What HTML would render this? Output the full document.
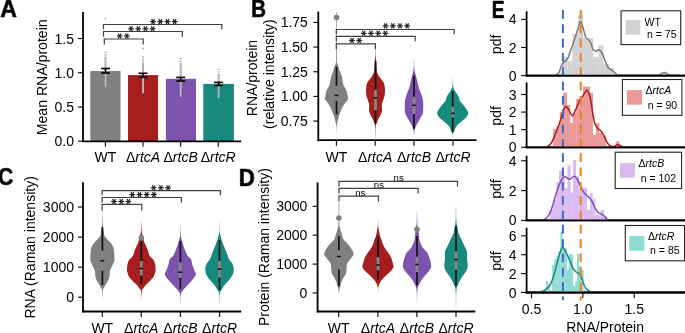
<!DOCTYPE html>
<html><head><meta charset="utf-8"><style>
html,body{margin:0;padding:0;background:#fff;overflow:hidden}
svg{display:block;will-change:transform}
text{font-family:"Liberation Sans",sans-serif;fill:#000}
</style></head><body>
<svg width="685" height="333" viewBox="0 0 685 333">
<rect width="685" height="333" fill="#fff"/>
<text x="0.00" y="0.00" font-size="24" text-anchor="start" font-weight="bold" font-style="normal" stroke="#1a1a1a" stroke-width="0.7" transform="translate(0.3,16.7) scale(0.96,1)">A</text>
<line x1="83.00" y1="12.00" x2="83.00" y2="141.80" stroke="#000" stroke-width="1.8" />
<line x1="78.00" y1="141.20" x2="83.00" y2="141.20" stroke="#000" stroke-width="1.1" />
<text x="74.00" y="146.20" font-size="14" text-anchor="end" font-weight="normal" font-style="normal" >0.0</text>
<line x1="78.00" y1="106.97" x2="83.00" y2="106.97" stroke="#000" stroke-width="1.1" />
<text x="74.00" y="111.97" font-size="14" text-anchor="end" font-weight="normal" font-style="normal" >0.5</text>
<line x1="78.00" y1="72.75" x2="83.00" y2="72.75" stroke="#000" stroke-width="1.1" />
<text x="74.00" y="77.75" font-size="14" text-anchor="end" font-weight="normal" font-style="normal" >1.0</text>
<line x1="78.00" y1="38.52" x2="83.00" y2="38.52" stroke="#000" stroke-width="1.1" />
<text x="74.00" y="43.52" font-size="14" text-anchor="end" font-weight="normal" font-style="normal" >1.5</text>
<rect x="90.30" y="71.00" width="30.20" height="70.30" fill="#808080" />
<rect x="128.00" y="75.10" width="30.00" height="66.20" fill="#a51d1d" />
<rect x="165.90" y="78.80" width="30.10" height="62.50" fill="#7d53ad" />
<rect x="203.30" y="83.90" width="30.60" height="57.40" fill="#17897e" />
<line x1="105.50" y1="51.70" x2="105.50" y2="57.70" stroke="#a8a8a8" stroke-width="2.0" stroke-dasharray="1.2 1.3"/>
<line x1="105.50" y1="57.70" x2="105.50" y2="86.80" stroke="#a6a6a6" stroke-width="2.0" />
<line x1="105.50" y1="57.70" x2="105.50" y2="86.80" stroke="#c8c8c8" stroke-width="0.7" />
<circle cx="105.5" cy="18.7" r="0.9" fill="#a8a8a8"/>
<line x1="143.00" y1="56.50" x2="143.00" y2="62.50" stroke="#a8a8a8" stroke-width="2.0" stroke-dasharray="1.2 1.3"/>
<line x1="143.00" y1="62.50" x2="143.00" y2="93.20" stroke="#a6a6a6" stroke-width="2.0" />
<line x1="143.00" y1="62.50" x2="143.00" y2="93.20" stroke="#c8c8c8" stroke-width="0.7" />
<circle cx="143" cy="48.5" r="0.9" fill="#a8a8a8"/>
<line x1="180.70" y1="58.10" x2="180.70" y2="64.10" stroke="#a8a8a8" stroke-width="2.0" stroke-dasharray="1.2 1.3"/>
<line x1="180.70" y1="64.10" x2="180.70" y2="96.80" stroke="#a6a6a6" stroke-width="2.0" />
<line x1="180.70" y1="64.10" x2="180.70" y2="96.80" stroke="#c8c8c8" stroke-width="0.7" />
<line x1="218.60" y1="68.90" x2="218.60" y2="74.90" stroke="#a8a8a8" stroke-width="2.0" stroke-dasharray="1.2 1.3"/>
<line x1="218.60" y1="74.90" x2="218.60" y2="97.70" stroke="#a6a6a6" stroke-width="2.0" />
<line x1="218.60" y1="74.90" x2="218.60" y2="97.70" stroke="#c8c8c8" stroke-width="0.7" />
<line x1="105.50" y1="68.50" x2="105.50" y2="73.00" stroke="#000" stroke-width="1.6" />
<line x1="101.00" y1="68.50" x2="110.00" y2="68.50" stroke="#000" stroke-width="1.6" />
<line x1="101.00" y1="73.00" x2="110.00" y2="73.00" stroke="#000" stroke-width="1.6" />
<line x1="143.00" y1="73.30" x2="143.00" y2="77.30" stroke="#000" stroke-width="1.6" />
<line x1="138.50" y1="73.30" x2="147.50" y2="73.30" stroke="#000" stroke-width="1.6" />
<line x1="138.50" y1="77.30" x2="147.50" y2="77.30" stroke="#000" stroke-width="1.6" />
<line x1="180.70" y1="77.40" x2="180.70" y2="81.00" stroke="#000" stroke-width="1.6" />
<line x1="176.20" y1="77.40" x2="185.20" y2="77.40" stroke="#000" stroke-width="1.6" />
<line x1="176.20" y1="81.00" x2="185.20" y2="81.00" stroke="#000" stroke-width="1.6" />
<line x1="218.60" y1="82.40" x2="218.60" y2="85.50" stroke="#000" stroke-width="1.6" />
<line x1="214.10" y1="82.40" x2="223.10" y2="82.40" stroke="#000" stroke-width="1.6" />
<line x1="214.10" y1="85.50" x2="223.10" y2="85.50" stroke="#000" stroke-width="1.6" />
<line x1="82.00" y1="141.30" x2="241.20" y2="141.30" stroke="#000" stroke-width="1.8" />
<line x1="105.40" y1="141.30" x2="105.40" y2="146.80" stroke="#000" stroke-width="1.1" />
<text x="105.40" y="162.30" font-size="14" text-anchor="middle" font-weight="normal" font-style="normal" >WT</text>
<line x1="143.00" y1="141.30" x2="143.00" y2="146.80" stroke="#000" stroke-width="1.1" />
<text x="143.00" y="162.30" font-size="14" text-anchor="middle" font-weight="normal" font-style="normal" >Δ<tspan font-style="italic">rtcA</tspan></text>
<line x1="180.60" y1="141.30" x2="180.60" y2="146.80" stroke="#000" stroke-width="1.1" />
<text x="180.60" y="162.30" font-size="14" text-anchor="middle" font-weight="normal" font-style="normal" >Δ<tspan font-style="italic">rtcB</tspan></text>
<line x1="218.20" y1="141.30" x2="218.20" y2="146.80" stroke="#000" stroke-width="1.1" />
<text x="218.20" y="162.30" font-size="14" text-anchor="middle" font-weight="normal" font-style="normal" >Δ<tspan font-style="italic">rtcR</tspan></text>
<text x="0.00" y="0.00" font-size="14.1" text-anchor="middle" font-weight="normal" font-style="normal" transform="translate(47,77.3) rotate(-90)">Mean RNA/protein</text>
<path d="M103.50,29.30 L103.50,24.50 L221.80,24.50 L221.80,29.30" fill="none" stroke="#404040" stroke-width="1.2"/>
<line x1="150.15" y1="21.60" x2="155.95" y2="21.60" stroke="#222" stroke-width="1.2" />
<line x1="151.60" y1="19.09" x2="154.50" y2="24.11" stroke="#222" stroke-width="1.2" />
<line x1="154.50" y1="19.09" x2="151.60" y2="24.11" stroke="#222" stroke-width="1.2" />
<line x1="157.35" y1="21.60" x2="163.15" y2="21.60" stroke="#222" stroke-width="1.2" />
<line x1="158.80" y1="19.09" x2="161.70" y2="24.11" stroke="#222" stroke-width="1.2" />
<line x1="161.70" y1="19.09" x2="158.80" y2="24.11" stroke="#222" stroke-width="1.2" />
<line x1="164.55" y1="21.60" x2="170.35" y2="21.60" stroke="#222" stroke-width="1.2" />
<line x1="166.00" y1="19.09" x2="168.90" y2="24.11" stroke="#222" stroke-width="1.2" />
<line x1="168.90" y1="19.09" x2="166.00" y2="24.11" stroke="#222" stroke-width="1.2" />
<line x1="171.75" y1="21.60" x2="177.55" y2="21.60" stroke="#222" stroke-width="1.2" />
<line x1="173.20" y1="19.09" x2="176.10" y2="24.11" stroke="#222" stroke-width="1.2" />
<line x1="176.10" y1="19.09" x2="173.20" y2="24.11" stroke="#222" stroke-width="1.2" />
<path d="M103.50,36.70 L103.50,31.50 L182.30,31.50 L182.30,36.70" fill="none" stroke="#404040" stroke-width="1.2"/>
<line x1="128.15" y1="28.80" x2="133.95" y2="28.80" stroke="#222" stroke-width="1.2" />
<line x1="129.60" y1="26.29" x2="132.50" y2="31.31" stroke="#222" stroke-width="1.2" />
<line x1="132.50" y1="26.29" x2="129.60" y2="31.31" stroke="#222" stroke-width="1.2" />
<line x1="135.35" y1="28.80" x2="141.15" y2="28.80" stroke="#222" stroke-width="1.2" />
<line x1="136.80" y1="26.29" x2="139.70" y2="31.31" stroke="#222" stroke-width="1.2" />
<line x1="139.70" y1="26.29" x2="136.80" y2="31.31" stroke="#222" stroke-width="1.2" />
<line x1="142.55" y1="28.80" x2="148.35" y2="28.80" stroke="#222" stroke-width="1.2" />
<line x1="144.00" y1="26.29" x2="146.90" y2="31.31" stroke="#222" stroke-width="1.2" />
<line x1="146.90" y1="26.29" x2="144.00" y2="31.31" stroke="#222" stroke-width="1.2" />
<line x1="149.75" y1="28.80" x2="155.55" y2="28.80" stroke="#222" stroke-width="1.2" />
<line x1="151.20" y1="26.29" x2="154.10" y2="31.31" stroke="#222" stroke-width="1.2" />
<line x1="154.10" y1="26.29" x2="151.20" y2="31.31" stroke="#222" stroke-width="1.2" />
<path d="M104.30,44.60 L104.30,39.00 L143.20,39.00 L143.20,44.60" fill="none" stroke="#404040" stroke-width="1.2"/>
<line x1="116.75" y1="36.00" x2="122.55" y2="36.00" stroke="#222" stroke-width="1.2" />
<line x1="118.20" y1="33.49" x2="121.10" y2="38.51" stroke="#222" stroke-width="1.2" />
<line x1="121.10" y1="33.49" x2="118.20" y2="38.51" stroke="#222" stroke-width="1.2" />
<line x1="123.95" y1="36.00" x2="129.75" y2="36.00" stroke="#222" stroke-width="1.2" />
<line x1="125.40" y1="33.49" x2="128.30" y2="38.51" stroke="#222" stroke-width="1.2" />
<line x1="128.30" y1="33.49" x2="125.40" y2="38.51" stroke="#222" stroke-width="1.2" />
<text x="0.00" y="0.00" font-size="24" text-anchor="start" font-weight="bold" font-style="normal" stroke="#1a1a1a" stroke-width="0.7" transform="translate(251.3,16.7) scale(0.85,1)">B</text>
<line x1="318.30" y1="11.50" x2="318.30" y2="141.30" stroke="#000" stroke-width="1.8" />
<line x1="313.30" y1="121.05" x2="318.30" y2="121.05" stroke="#000" stroke-width="1.1" />
<text x="307.90" y="126.05" font-size="14" text-anchor="end" font-weight="normal" font-style="normal" >0.75</text>
<line x1="313.30" y1="96.40" x2="318.30" y2="96.40" stroke="#000" stroke-width="1.1" />
<text x="307.90" y="101.40" font-size="14" text-anchor="end" font-weight="normal" font-style="normal" >1.00</text>
<line x1="313.30" y1="71.75" x2="318.30" y2="71.75" stroke="#000" stroke-width="1.1" />
<text x="307.90" y="76.75" font-size="14" text-anchor="end" font-weight="normal" font-style="normal" >1.25</text>
<line x1="313.30" y1="47.10" x2="318.30" y2="47.10" stroke="#000" stroke-width="1.1" />
<text x="307.90" y="52.10" font-size="14" text-anchor="end" font-weight="normal" font-style="normal" >1.50</text>
<line x1="313.30" y1="22.45" x2="318.30" y2="22.45" stroke="#000" stroke-width="1.1" />
<text x="307.90" y="27.45" font-size="14" text-anchor="end" font-weight="normal" font-style="normal" >1.75</text>
<text x="0.00" y="0.00" font-size="14" text-anchor="middle" font-weight="normal" font-style="normal" transform="translate(257,78) rotate(-90)">RNA/protein</text>
<text x="0.00" y="0.00" font-size="14" text-anchor="middle" font-weight="normal" font-style="normal" transform="translate(273.9,74.1) rotate(-90)">(relative intensity)</text>
<line x1="336.50" y1="50.00" x2="336.50" y2="62.50" stroke="#808080" stroke-width="0.9" opacity="0.2"/>
<line x1="336.50" y1="120.00" x2="336.50" y2="133.00" stroke="#808080" stroke-width="0.9" opacity="0.18"/>
<line x1="336.50" y1="12.00" x2="336.50" y2="60.00" stroke="#808080" stroke-width="1.0" opacity="0.6"/>
<path d="M336.50,50.00 L336.53,50.00 C336.55,51.33 336.57,55.92 336.65,58.00 C336.74,60.08 336.74,61.00 337.04,62.50 C337.35,64.00 338.02,65.50 338.50,67.00 C338.98,68.50 339.37,70.00 339.90,71.50 C340.43,73.00 341.25,74.50 341.70,76.00 C342.15,77.50 342.30,79.00 342.60,80.50 C342.90,82.00 342.93,83.50 343.50,85.00 C344.07,86.50 345.37,88.00 346.00,89.50 C346.63,91.00 346.97,92.50 347.30,94.00 C347.63,95.50 348.00,97.42 348.00,98.50 C348.00,99.58 347.78,99.75 347.30,100.50 C346.82,101.25 345.92,101.83 345.10,103.00 C344.28,104.17 343.17,106.00 342.40,107.50 C341.63,109.00 341.02,110.75 340.50,112.00 C339.98,113.25 339.72,113.67 339.30,115.00 C338.88,116.33 338.41,118.33 338.00,120.00 C337.59,121.67 337.06,123.17 336.81,125.00 C336.57,126.83 336.57,130.00 336.53,131.00 L336.50,131.00 L336.47,131.00 C336.43,130.00 336.43,126.83 336.19,125.00 C335.94,123.17 335.41,121.67 335.00,120.00 C334.59,118.33 334.12,116.33 333.70,115.00 C333.28,113.67 333.02,113.25 332.50,112.00 C331.98,110.75 331.37,109.00 330.60,107.50 C329.83,106.00 328.72,104.17 327.90,103.00 C327.08,101.83 326.18,101.25 325.70,100.50 C325.22,99.75 325.00,99.58 325.00,98.50 C325.00,97.42 325.37,95.50 325.70,94.00 C326.03,92.50 326.37,91.00 327.00,89.50 C327.63,88.00 328.93,86.50 329.50,85.00 C330.07,83.50 330.10,82.00 330.40,80.50 C330.70,79.00 330.85,77.50 331.30,76.00 C331.75,74.50 332.57,73.00 333.10,71.50 C333.63,70.00 334.02,68.50 334.50,67.00 C334.98,65.50 335.65,64.00 335.96,62.50 C336.26,61.00 336.26,60.08 336.35,58.00 C336.43,55.92 336.45,51.33 336.47,50.00 Z" fill="#808080"/>
<line x1="336.50" y1="66.60" x2="336.50" y2="114.70" stroke="#111" stroke-width="1.7" />
<rect x="335.10" y="85.90" width="2.80" height="14.90" fill="#858585" />
<line x1="334.60" y1="95.40" x2="338.40" y2="95.40" stroke="#111" stroke-width="1.5" />
<circle cx="336.50" cy="17.50" r="2.8" fill="#808080"/>
<line x1="375.50" y1="48.70" x2="375.50" y2="60.00" stroke="#a51d1d" stroke-width="0.9" opacity="0.2"/>
<line x1="375.50" y1="125.00" x2="375.50" y2="138.50" stroke="#a51d1d" stroke-width="0.9" opacity="0.18"/>
<path d="M375.50,48.70 L375.53,48.70 C375.55,49.75 375.57,53.12 375.65,55.00 C375.74,56.88 375.89,58.17 376.04,60.00 C376.19,61.83 376.39,64.00 376.55,66.00 C376.71,68.00 376.51,70.17 377.00,72.00 C377.49,73.83 378.38,75.25 379.50,77.00 C380.62,78.75 382.83,80.83 383.70,82.50 C384.57,84.17 384.48,85.75 384.70,87.00 C384.92,88.25 384.97,89.00 385.00,90.00 C385.03,91.00 385.02,91.83 384.90,93.00 C384.78,94.17 384.55,95.92 384.30,97.00 C384.05,98.08 383.70,98.67 383.40,99.50 C383.10,100.33 382.73,101.25 382.50,102.00 C382.27,102.75 382.12,103.33 382.00,104.00 C381.88,104.67 381.80,105.25 381.80,106.00 C381.80,106.75 381.98,107.67 382.00,108.50 C382.02,109.33 382.00,110.25 381.90,111.00 C381.80,111.75 381.65,112.33 381.40,113.00 C381.15,113.67 380.78,114.25 380.40,115.00 C380.02,115.75 379.52,116.67 379.10,117.50 C378.68,118.33 378.23,119.25 377.90,120.00 C377.57,120.75 377.41,121.17 377.10,122.00 C376.79,122.83 376.29,123.83 376.04,125.00 C375.80,126.17 375.74,127.08 375.65,129.00 C375.57,130.92 375.55,135.25 375.53,136.50 L375.50,136.50 L375.47,136.50 C375.45,135.25 375.43,130.92 375.35,129.00 C375.26,127.08 375.20,126.17 374.96,125.00 C374.71,123.83 374.21,122.83 373.90,122.00 C373.59,121.17 373.43,120.75 373.10,120.00 C372.77,119.25 372.32,118.33 371.90,117.50 C371.48,116.67 370.98,115.75 370.60,115.00 C370.22,114.25 369.85,113.67 369.60,113.00 C369.35,112.33 369.20,111.75 369.10,111.00 C369.00,110.25 368.98,109.33 369.00,108.50 C369.02,107.67 369.20,106.75 369.20,106.00 C369.20,105.25 369.12,104.67 369.00,104.00 C368.88,103.33 368.73,102.75 368.50,102.00 C368.27,101.25 367.90,100.33 367.60,99.50 C367.30,98.67 366.95,98.08 366.70,97.00 C366.45,95.92 366.22,94.17 366.10,93.00 C365.98,91.83 365.97,91.00 366.00,90.00 C366.03,89.00 366.08,88.25 366.30,87.00 C366.52,85.75 366.43,84.17 367.30,82.50 C368.17,80.83 370.38,78.75 371.50,77.00 C372.62,75.25 373.51,73.83 374.00,72.00 C374.49,70.17 374.29,68.00 374.45,66.00 C374.61,64.00 374.81,61.83 374.96,60.00 C375.11,58.17 375.26,56.88 375.35,55.00 C375.43,53.12 375.45,49.75 375.47,48.70 Z" fill="#a51d1d"/>
<line x1="375.50" y1="60.70" x2="375.50" y2="123.70" stroke="#111" stroke-width="1.7" />
<rect x="374.10" y="89.70" width="2.80" height="20.60" fill="#858585" />
<line x1="373.60" y1="97.90" x2="377.40" y2="97.90" stroke="#111" stroke-width="1.5" />
<line x1="414.00" y1="58.50" x2="414.00" y2="70.50" stroke="#7d53ad" stroke-width="0.9" opacity="0.2"/>
<line x1="414.00" y1="128.50" x2="414.00" y2="137.00" stroke="#7d53ad" stroke-width="0.9" opacity="0.18"/>
<path d="M414.00,58.50 L414.03,58.50 C414.04,59.58 414.01,63.00 414.10,65.00 C414.18,67.00 414.23,68.72 414.54,70.50 C414.86,72.28 415.59,74.12 416.00,75.70 C416.41,77.28 416.67,78.45 417.00,80.00 C417.33,81.55 417.60,83.42 418.00,85.00 C418.40,86.58 418.87,88.00 419.40,89.50 C419.93,91.00 420.67,92.50 421.20,94.00 C421.73,95.50 422.27,97.00 422.60,98.50 C422.93,100.00 423.10,101.50 423.20,103.00 C423.30,104.50 423.23,105.92 423.20,107.50 C423.17,109.08 423.17,111.25 423.00,112.50 C422.83,113.75 422.53,114.25 422.20,115.00 C421.87,115.75 421.40,116.33 421.00,117.00 C420.60,117.67 420.22,118.25 419.80,119.00 C419.38,119.75 418.97,120.67 418.50,121.50 C418.03,122.33 417.42,123.25 417.00,124.00 C416.58,124.75 416.33,125.25 416.00,126.00 C415.67,126.75 415.31,127.75 415.05,128.50 C414.79,129.25 414.59,129.42 414.42,130.50 C414.25,131.58 414.09,134.25 414.03,135.00 L414.00,135.00 L413.97,135.00 C413.91,134.25 413.75,131.58 413.58,130.50 C413.41,129.42 413.21,129.25 412.95,128.50 C412.69,127.75 412.33,126.75 412.00,126.00 C411.67,125.25 411.42,124.75 411.00,124.00 C410.58,123.25 409.97,122.33 409.50,121.50 C409.03,120.67 408.62,119.75 408.20,119.00 C407.78,118.25 407.40,117.67 407.00,117.00 C406.60,116.33 406.13,115.75 405.80,115.00 C405.47,114.25 405.17,113.75 405.00,112.50 C404.83,111.25 404.83,109.08 404.80,107.50 C404.77,105.92 404.70,104.50 404.80,103.00 C404.90,101.50 405.07,100.00 405.40,98.50 C405.73,97.00 406.27,95.50 406.80,94.00 C407.33,92.50 408.07,91.00 408.60,89.50 C409.13,88.00 409.60,86.58 410.00,85.00 C410.40,83.42 410.67,81.55 411.00,80.00 C411.33,78.45 411.59,77.28 412.00,75.70 C412.41,74.12 413.14,72.28 413.46,70.50 C413.77,68.72 413.82,67.00 413.90,65.00 C413.99,63.00 413.96,59.58 413.97,58.50 Z" fill="#7d53ad"/>
<line x1="414.00" y1="75.70" x2="414.00" y2="128.70" stroke="#111" stroke-width="1.7" />
<rect x="412.60" y="96.70" width="2.80" height="17.20" fill="#858585" />
<line x1="412.10" y1="105.30" x2="415.90" y2="105.30" stroke="#111" stroke-width="1.5" />
<line x1="452.70" y1="78.70" x2="452.70" y2="88.50" stroke="#17897e" stroke-width="0.9" opacity="0.2"/>
<line x1="452.70" y1="131.00" x2="452.70" y2="138.50" stroke="#17897e" stroke-width="0.9" opacity="0.18"/>
<path d="M452.70,78.70 L452.73,78.70 C452.74,79.42 452.75,81.78 452.80,83.00 C452.84,84.22 452.85,85.08 453.01,86.00 C453.17,86.92 453.43,87.67 453.75,88.50 C454.06,89.33 454.47,90.25 454.90,91.00 C455.33,91.75 455.83,92.33 456.30,93.00 C456.77,93.67 457.27,94.28 457.70,95.00 C458.13,95.72 458.63,96.55 458.90,97.30 C459.17,98.05 459.07,98.80 459.30,99.50 C459.53,100.20 459.75,100.75 460.30,101.50 C460.85,102.25 461.65,102.83 462.60,104.00 C463.55,105.17 465.07,107.00 466.00,108.50 C466.93,110.00 468.20,111.50 468.20,113.00 C468.20,114.50 467.23,116.00 466.00,117.50 C464.77,119.00 462.22,120.75 460.80,122.00 C459.38,123.25 458.35,124.08 457.50,125.00 C456.65,125.92 456.25,126.50 455.70,127.50 C455.15,128.50 454.66,129.92 454.20,131.00 C453.74,132.08 453.17,133.08 452.92,134.00 C452.68,134.92 452.76,136.08 452.73,136.50 L452.70,136.50 L452.67,136.50 C452.64,136.08 452.72,134.92 452.48,134.00 C452.23,133.08 451.66,132.08 451.20,131.00 C450.74,129.92 450.25,128.50 449.70,127.50 C449.15,126.50 448.75,125.92 447.90,125.00 C447.05,124.08 446.02,123.25 444.60,122.00 C443.18,120.75 440.63,119.00 439.40,117.50 C438.17,116.00 437.20,114.50 437.20,113.00 C437.20,111.50 438.47,110.00 439.40,108.50 C440.33,107.00 441.85,105.17 442.80,104.00 C443.75,102.83 444.55,102.25 445.10,101.50 C445.65,100.75 445.87,100.20 446.10,99.50 C446.33,98.80 446.23,98.05 446.50,97.30 C446.77,96.55 447.27,95.72 447.70,95.00 C448.13,94.28 448.63,93.67 449.10,93.00 C449.57,92.33 450.07,91.75 450.50,91.00 C450.93,90.25 451.34,89.33 451.65,88.50 C451.97,87.67 452.23,86.92 452.39,86.00 C452.55,85.08 452.56,84.22 452.60,83.00 C452.65,81.78 452.66,79.42 452.67,78.70 Z" fill="#17897e"/>
<line x1="452.70" y1="91.00" x2="452.70" y2="132.00" stroke="#111" stroke-width="1.7" />
<rect x="451.30" y="106.70" width="2.80" height="10.80" fill="#858585" />
<line x1="450.80" y1="113.40" x2="454.60" y2="113.40" stroke="#111" stroke-width="1.5" />
<line x1="317.50" y1="140.20" x2="476.50" y2="140.20" stroke="#000" stroke-width="1.8" />
<line x1="336.40" y1="140.20" x2="336.40" y2="145.70" stroke="#000" stroke-width="1.1" />
<text x="336.40" y="161.80" font-size="14" text-anchor="middle" font-weight="normal" font-style="normal" >WT</text>
<line x1="375.20" y1="140.20" x2="375.20" y2="145.70" stroke="#000" stroke-width="1.1" />
<text x="375.20" y="161.80" font-size="14" text-anchor="middle" font-weight="normal" font-style="normal" >Δ<tspan font-style="italic">rtcA</tspan></text>
<line x1="414.00" y1="140.20" x2="414.00" y2="145.70" stroke="#000" stroke-width="1.1" />
<text x="414.00" y="161.80" font-size="14" text-anchor="middle" font-weight="normal" font-style="normal" >Δ<tspan font-style="italic">rtcB</tspan></text>
<line x1="453.00" y1="140.20" x2="453.00" y2="145.70" stroke="#000" stroke-width="1.1" />
<text x="453.00" y="161.80" font-size="14" text-anchor="middle" font-weight="normal" font-style="normal" >Δ<tspan font-style="italic">rtcR</tspan></text>
<path d="M336.30,34.20 L336.30,29.50 L454.20,29.50 L454.20,34.20" fill="none" stroke="#404040" stroke-width="1.2"/>
<line x1="382.70" y1="25.90" x2="388.50" y2="25.90" stroke="#222" stroke-width="1.2" />
<line x1="384.15" y1="23.39" x2="387.05" y2="28.41" stroke="#222" stroke-width="1.2" />
<line x1="387.05" y1="23.39" x2="384.15" y2="28.41" stroke="#222" stroke-width="1.2" />
<line x1="389.90" y1="25.90" x2="395.70" y2="25.90" stroke="#222" stroke-width="1.2" />
<line x1="391.35" y1="23.39" x2="394.25" y2="28.41" stroke="#222" stroke-width="1.2" />
<line x1="394.25" y1="23.39" x2="391.35" y2="28.41" stroke="#222" stroke-width="1.2" />
<line x1="397.10" y1="25.90" x2="402.90" y2="25.90" stroke="#222" stroke-width="1.2" />
<line x1="398.55" y1="23.39" x2="401.45" y2="28.41" stroke="#222" stroke-width="1.2" />
<line x1="401.45" y1="23.39" x2="398.55" y2="28.41" stroke="#222" stroke-width="1.2" />
<line x1="404.30" y1="25.90" x2="410.10" y2="25.90" stroke="#222" stroke-width="1.2" />
<line x1="405.75" y1="23.39" x2="408.65" y2="28.41" stroke="#222" stroke-width="1.2" />
<line x1="408.65" y1="23.39" x2="405.75" y2="28.41" stroke="#222" stroke-width="1.2" />
<path d="M336.30,41.20 L336.30,36.30 L415.20,36.30 L415.20,41.20" fill="none" stroke="#404040" stroke-width="1.2"/>
<line x1="360.85" y1="33.30" x2="366.65" y2="33.30" stroke="#222" stroke-width="1.2" />
<line x1="362.30" y1="30.79" x2="365.20" y2="35.81" stroke="#222" stroke-width="1.2" />
<line x1="365.20" y1="30.79" x2="362.30" y2="35.81" stroke="#222" stroke-width="1.2" />
<line x1="368.05" y1="33.30" x2="373.85" y2="33.30" stroke="#222" stroke-width="1.2" />
<line x1="369.50" y1="30.79" x2="372.40" y2="35.81" stroke="#222" stroke-width="1.2" />
<line x1="372.40" y1="30.79" x2="369.50" y2="35.81" stroke="#222" stroke-width="1.2" />
<line x1="375.25" y1="33.30" x2="381.05" y2="33.30" stroke="#222" stroke-width="1.2" />
<line x1="376.70" y1="30.79" x2="379.60" y2="35.81" stroke="#222" stroke-width="1.2" />
<line x1="379.60" y1="30.79" x2="376.70" y2="35.81" stroke="#222" stroke-width="1.2" />
<line x1="382.45" y1="33.30" x2="388.25" y2="33.30" stroke="#222" stroke-width="1.2" />
<line x1="383.90" y1="30.79" x2="386.80" y2="35.81" stroke="#222" stroke-width="1.2" />
<line x1="386.80" y1="30.79" x2="383.90" y2="35.81" stroke="#222" stroke-width="1.2" />
<path d="M336.30,49.30 L336.30,43.80 L375.40,43.80 L375.40,49.30" fill="none" stroke="#404040" stroke-width="1.2"/>
<line x1="349.10" y1="40.50" x2="354.90" y2="40.50" stroke="#222" stroke-width="1.2" />
<line x1="350.55" y1="37.99" x2="353.45" y2="43.01" stroke="#222" stroke-width="1.2" />
<line x1="353.45" y1="37.99" x2="350.55" y2="43.01" stroke="#222" stroke-width="1.2" />
<line x1="356.30" y1="40.50" x2="362.10" y2="40.50" stroke="#222" stroke-width="1.2" />
<line x1="357.75" y1="37.99" x2="360.65" y2="43.01" stroke="#222" stroke-width="1.2" />
<line x1="360.65" y1="37.99" x2="357.75" y2="43.01" stroke="#222" stroke-width="1.2" />
<text x="0.00" y="0.00" font-size="24" text-anchor="start" font-weight="bold" font-style="normal" stroke="#1a1a1a" stroke-width="0.7" transform="translate(-2,184.5) scale(0.88,1)">C</text>
<line x1="83.00" y1="182.30" x2="83.00" y2="312.30" stroke="#000" stroke-width="1.8" />
<line x1="78.00" y1="297.20" x2="83.00" y2="297.20" stroke="#000" stroke-width="1.1" />
<text x="74.00" y="302.20" font-size="14" text-anchor="end" font-weight="normal" font-style="normal" >0</text>
<line x1="78.00" y1="267.15" x2="83.00" y2="267.15" stroke="#000" stroke-width="1.1" />
<text x="74.00" y="272.15" font-size="14" text-anchor="end" font-weight="normal" font-style="normal" >1000</text>
<line x1="78.00" y1="237.10" x2="83.00" y2="237.10" stroke="#000" stroke-width="1.1" />
<text x="74.00" y="242.10" font-size="14" text-anchor="end" font-weight="normal" font-style="normal" >2000</text>
<line x1="78.00" y1="207.05" x2="83.00" y2="207.05" stroke="#000" stroke-width="1.1" />
<text x="74.00" y="212.05" font-size="14" text-anchor="end" font-weight="normal" font-style="normal" >3000</text>
<text x="0.00" y="0.00" font-size="14" text-anchor="middle" font-weight="normal" font-style="normal" transform="translate(34.9,247.4) rotate(-90)">RNA (Raman intensity)</text>
<line x1="102.40" y1="210.60" x2="102.40" y2="227.00" stroke="#808080" stroke-width="0.9" opacity="0.2"/>
<line x1="102.40" y1="289.00" x2="102.40" y2="300.00" stroke="#808080" stroke-width="0.9" opacity="0.18"/>
<path d="M102.40,210.60 L102.43,210.60 C102.45,212.17 102.47,217.27 102.55,220.00 C102.64,222.73 102.72,225.00 102.94,227.00 C103.17,229.00 103.66,230.53 103.90,232.00 C104.14,233.47 103.90,234.63 104.40,235.80 C104.90,236.97 105.83,237.80 106.90,239.00 C107.97,240.20 109.83,241.83 110.80,243.00 C111.77,244.17 112.20,245.00 112.70,246.00 C113.20,247.00 113.52,247.50 113.80,249.00 C114.08,250.50 114.32,253.00 114.40,255.00 C114.48,257.00 114.53,259.50 114.30,261.00 C114.07,262.50 113.45,263.00 113.00,264.00 C112.55,265.00 112.13,265.80 111.60,267.00 C111.07,268.20 110.12,269.90 109.80,271.20 C109.48,272.50 109.83,273.67 109.70,274.80 C109.57,275.93 109.23,277.13 109.00,278.00 C108.77,278.87 108.63,279.25 108.30,280.00 C107.97,280.75 107.45,281.75 107.00,282.50 C106.55,283.25 106.03,283.75 105.60,284.50 C105.17,285.25 104.82,286.25 104.40,287.00 C103.98,287.75 103.39,288.17 103.09,289.00 C102.79,289.83 102.73,290.50 102.62,292.00 C102.51,293.50 102.46,297.00 102.43,298.00 L102.40,298.00 L102.37,298.00 C102.34,297.00 102.29,293.50 102.18,292.00 C102.07,290.50 102.01,289.83 101.71,289.00 C101.41,288.17 100.82,287.75 100.40,287.00 C99.98,286.25 99.63,285.25 99.20,284.50 C98.77,283.75 98.25,283.25 97.80,282.50 C97.35,281.75 96.83,280.75 96.50,280.00 C96.17,279.25 96.03,278.87 95.80,278.00 C95.57,277.13 95.23,275.93 95.10,274.80 C94.97,273.67 95.32,272.50 95.00,271.20 C94.68,269.90 93.73,268.20 93.20,267.00 C92.67,265.80 92.25,265.00 91.80,264.00 C91.35,263.00 90.73,262.50 90.50,261.00 C90.27,259.50 90.32,257.00 90.40,255.00 C90.48,253.00 90.72,250.50 91.00,249.00 C91.28,247.50 91.60,247.00 92.10,246.00 C92.60,245.00 93.03,244.17 94.00,243.00 C94.97,241.83 96.83,240.20 97.90,239.00 C98.97,237.80 99.90,236.97 100.40,235.80 C100.90,234.63 100.66,233.47 100.90,232.00 C101.14,230.53 101.63,229.00 101.86,227.00 C102.08,225.00 102.16,222.73 102.25,220.00 C102.33,217.27 102.35,212.17 102.37,210.60 Z" fill="#808080"/>
<line x1="102.40" y1="227.00" x2="102.40" y2="285.00" stroke="#111" stroke-width="1.7" />
<rect x="101.00" y="250.80" width="2.80" height="20.00" fill="#858585" />
<line x1="100.50" y1="260.70" x2="104.30" y2="260.70" stroke="#111" stroke-width="1.5" />
<line x1="141.30" y1="221.50" x2="141.30" y2="233.00" stroke="#a51d1d" stroke-width="0.9" opacity="0.2"/>
<line x1="141.30" y1="290.00" x2="141.30" y2="300.00" stroke="#a51d1d" stroke-width="0.9" opacity="0.18"/>
<path d="M141.30,221.50 L141.33,221.50 C141.35,222.58 141.37,226.08 141.45,228.00 C141.54,229.92 141.60,231.67 141.84,233.00 C142.09,234.33 142.66,235.17 142.90,236.00 C143.14,236.83 143.12,237.08 143.30,238.00 C143.48,238.92 143.55,240.17 144.00,241.50 C144.45,242.83 145.35,244.50 146.00,246.00 C146.65,247.50 147.42,249.17 147.90,250.50 C148.38,251.83 148.53,253.00 148.90,254.00 C149.27,255.00 149.57,255.75 150.10,256.50 C150.63,257.25 151.43,257.75 152.10,258.50 C152.77,259.25 153.57,259.83 154.10,261.00 C154.63,262.17 155.05,264.00 155.30,265.50 C155.55,267.00 155.60,268.92 155.60,270.00 C155.60,271.08 155.62,270.92 155.30,272.00 C154.98,273.08 154.60,275.00 153.70,276.50 C152.80,278.00 150.97,279.83 149.90,281.00 C148.83,282.17 148.07,282.75 147.30,283.50 C146.53,284.25 145.93,284.75 145.30,285.50 C144.67,286.25 144.05,287.25 143.50,288.00 C142.95,288.75 142.33,289.00 141.99,290.00 C141.65,291.00 141.56,292.67 141.45,294.00 C141.34,295.33 141.35,297.33 141.33,298.00 L141.30,298.00 L141.27,298.00 C141.25,297.33 141.26,295.33 141.15,294.00 C141.04,292.67 140.95,291.00 140.61,290.00 C140.27,289.00 139.65,288.75 139.10,288.00 C138.55,287.25 137.93,286.25 137.30,285.50 C136.67,284.75 136.07,284.25 135.30,283.50 C134.53,282.75 133.77,282.17 132.70,281.00 C131.63,279.83 129.80,278.00 128.90,276.50 C128.00,275.00 127.62,273.08 127.30,272.00 C126.98,270.92 127.00,271.08 127.00,270.00 C127.00,268.92 127.05,267.00 127.30,265.50 C127.55,264.00 127.97,262.17 128.50,261.00 C129.03,259.83 129.83,259.25 130.50,258.50 C131.17,257.75 131.97,257.25 132.50,256.50 C133.03,255.75 133.33,255.00 133.70,254.00 C134.07,253.00 134.22,251.83 134.70,250.50 C135.18,249.17 135.95,247.50 136.60,246.00 C137.25,244.50 138.15,242.83 138.60,241.50 C139.05,240.17 139.12,238.92 139.30,238.00 C139.48,237.08 139.46,236.83 139.70,236.00 C139.94,235.17 140.51,234.33 140.76,233.00 C141.00,231.67 141.06,229.92 141.15,228.00 C141.23,226.08 141.25,222.58 141.27,221.50 Z" fill="#a51d1d"/>
<line x1="141.30" y1="237.90" x2="141.30" y2="283.70" stroke="#111" stroke-width="1.7" />
<rect x="139.90" y="261.00" width="2.80" height="14.50" fill="#858585" />
<line x1="139.40" y1="268.50" x2="143.20" y2="268.50" stroke="#111" stroke-width="1.5" />
<circle cx="141.30" cy="237.90" r="2.8" fill="#808080"/>
<line x1="180.40" y1="225.00" x2="180.40" y2="237.00" stroke="#7d53ad" stroke-width="0.9" opacity="0.2"/>
<line x1="180.40" y1="293.00" x2="180.40" y2="304.00" stroke="#7d53ad" stroke-width="0.9" opacity="0.18"/>
<path d="M180.40,225.00 L180.43,225.00 C180.45,226.17 180.47,230.00 180.55,232.00 C180.64,234.00 180.72,235.57 180.94,237.00 C181.17,238.43 181.52,239.27 181.90,240.60 C182.28,241.93 182.75,243.60 183.20,245.00 C183.65,246.40 183.93,247.33 184.60,249.00 C185.27,250.67 186.40,253.58 187.20,255.00 C188.00,256.42 188.72,256.70 189.40,257.50 C190.08,258.30 190.85,258.72 191.30,259.80 C191.75,260.88 191.70,262.55 192.10,264.00 C192.50,265.45 193.27,267.33 193.70,268.50 C194.13,269.67 194.37,270.25 194.70,271.00 C195.03,271.75 195.53,272.33 195.70,273.00 C195.87,273.67 195.92,274.25 195.70,275.00 C195.48,275.75 194.92,276.75 194.40,277.50 C193.88,278.25 193.23,278.75 192.60,279.50 C191.97,280.25 191.25,281.25 190.60,282.00 C189.95,282.75 189.40,283.25 188.70,284.00 C188.00,284.75 187.12,285.75 186.40,286.50 C185.68,287.25 185.03,287.75 184.40,288.50 C183.77,289.25 183.15,290.25 182.60,291.00 C182.05,291.75 181.43,292.00 181.09,293.00 C180.75,294.00 180.66,295.50 180.55,297.00 C180.44,298.50 180.45,301.17 180.43,302.00 L180.40,302.00 L180.37,302.00 C180.35,301.17 180.36,298.50 180.25,297.00 C180.14,295.50 180.05,294.00 179.71,293.00 C179.37,292.00 178.75,291.75 178.20,291.00 C177.65,290.25 177.03,289.25 176.40,288.50 C175.77,287.75 175.12,287.25 174.40,286.50 C173.68,285.75 172.80,284.75 172.10,284.00 C171.40,283.25 170.85,282.75 170.20,282.00 C169.55,281.25 168.83,280.25 168.20,279.50 C167.57,278.75 166.92,278.25 166.40,277.50 C165.88,276.75 165.32,275.75 165.10,275.00 C164.88,274.25 164.93,273.67 165.10,273.00 C165.27,272.33 165.77,271.75 166.10,271.00 C166.43,270.25 166.67,269.67 167.10,268.50 C167.53,267.33 168.30,265.45 168.70,264.00 C169.10,262.55 169.05,260.88 169.50,259.80 C169.95,258.72 170.72,258.30 171.40,257.50 C172.08,256.70 172.80,256.42 173.60,255.00 C174.40,253.58 175.53,250.67 176.20,249.00 C176.87,247.33 177.15,246.40 177.60,245.00 C178.05,243.60 178.52,241.93 178.90,240.60 C179.28,239.27 179.63,238.43 179.86,237.00 C180.08,235.57 180.16,234.00 180.25,232.00 C180.33,230.00 180.35,226.17 180.37,225.00 Z" fill="#7d53ad"/>
<line x1="180.40" y1="241.20" x2="180.40" y2="289.00" stroke="#111" stroke-width="1.7" />
<rect x="179.00" y="262.20" width="2.80" height="15.50" fill="#858585" />
<line x1="178.50" y1="272.20" x2="182.30" y2="272.20" stroke="#111" stroke-width="1.5" />
<line x1="219.50" y1="222.70" x2="219.50" y2="235.00" stroke="#17897e" stroke-width="0.9" opacity="0.2"/>
<line x1="219.50" y1="292.00" x2="219.50" y2="304.00" stroke="#17897e" stroke-width="0.9" opacity="0.18"/>
<path d="M219.50,222.70 L219.53,222.70 C219.54,223.92 219.55,228.28 219.60,230.00 C219.64,231.72 219.68,232.17 219.81,233.00 C219.94,233.83 220.08,233.92 220.36,235.00 C220.64,236.08 221.04,238.00 221.50,239.50 C221.96,241.00 222.53,242.50 223.10,244.00 C223.67,245.50 224.30,247.00 224.90,248.50 C225.50,250.00 226.23,251.75 226.70,253.00 C227.17,254.25 227.32,255.00 227.70,256.00 C228.08,257.00 228.53,258.12 229.00,259.00 C229.47,259.88 229.95,260.55 230.50,261.30 C231.05,262.05 231.77,262.38 232.30,263.50 C232.83,264.62 233.52,266.50 233.70,268.00 C233.88,269.50 233.52,271.50 233.40,272.50 C233.28,273.50 233.52,273.00 233.00,274.00 C232.48,275.00 231.42,277.00 230.30,278.50 C229.18,280.00 227.27,281.87 226.30,283.00 C225.33,284.13 225.07,284.55 224.50,285.30 C223.93,286.05 223.40,286.72 222.90,287.50 C222.40,288.28 221.95,289.25 221.50,290.00 C221.05,290.75 220.50,291.00 220.19,292.00 C219.88,293.00 219.76,294.33 219.65,296.00 C219.54,297.67 219.55,301.00 219.53,302.00 L219.50,302.00 L219.47,302.00 C219.45,301.00 219.46,297.67 219.35,296.00 C219.24,294.33 219.12,293.00 218.81,292.00 C218.50,291.00 217.95,290.75 217.50,290.00 C217.05,289.25 216.60,288.28 216.10,287.50 C215.60,286.72 215.07,286.05 214.50,285.30 C213.93,284.55 213.67,284.13 212.70,283.00 C211.73,281.87 209.82,280.00 208.70,278.50 C207.58,277.00 206.52,275.00 206.00,274.00 C205.48,273.00 205.72,273.50 205.60,272.50 C205.48,271.50 205.12,269.50 205.30,268.00 C205.48,266.50 206.17,264.62 206.70,263.50 C207.23,262.38 207.95,262.05 208.50,261.30 C209.05,260.55 209.53,259.88 210.00,259.00 C210.47,258.12 210.92,257.00 211.30,256.00 C211.68,255.00 211.83,254.25 212.30,253.00 C212.77,251.75 213.50,250.00 214.10,248.50 C214.70,247.00 215.33,245.50 215.90,244.00 C216.47,242.50 217.04,241.00 217.50,239.50 C217.96,238.00 218.36,236.08 218.64,235.00 C218.92,233.92 219.06,233.83 219.19,233.00 C219.32,232.17 219.36,231.72 219.40,230.00 C219.45,228.28 219.46,223.92 219.47,222.70 Z" fill="#17897e"/>
<line x1="219.50" y1="240.00" x2="219.50" y2="289.80" stroke="#111" stroke-width="1.7" />
<rect x="218.10" y="261.00" width="2.80" height="16.60" fill="#858585" />
<line x1="217.60" y1="269.20" x2="221.40" y2="269.20" stroke="#111" stroke-width="1.5" />
<line x1="82.00" y1="311.50" x2="241.20" y2="311.50" stroke="#000" stroke-width="1.8" />
<line x1="102.30" y1="311.50" x2="102.30" y2="317.00" stroke="#000" stroke-width="1.1" />
<text x="102.30" y="332.70" font-size="14" text-anchor="middle" font-weight="normal" font-style="normal" >WT</text>
<line x1="141.20" y1="311.50" x2="141.20" y2="317.00" stroke="#000" stroke-width="1.1" />
<text x="141.20" y="332.70" font-size="14" text-anchor="middle" font-weight="normal" font-style="normal" >Δ<tspan font-style="italic">rtcA</tspan></text>
<line x1="180.40" y1="311.50" x2="180.40" y2="317.00" stroke="#000" stroke-width="1.1" />
<text x="180.40" y="332.70" font-size="14" text-anchor="middle" font-weight="normal" font-style="normal" >Δ<tspan font-style="italic">rtcB</tspan></text>
<line x1="219.60" y1="311.50" x2="219.60" y2="317.00" stroke="#000" stroke-width="1.1" />
<text x="219.60" y="332.70" font-size="14" text-anchor="middle" font-weight="normal" font-style="normal" >Δ<tspan font-style="italic">rtcR</tspan></text>
<path d="M102.10,195.20 L102.10,190.60 L220.50,190.60 L220.50,195.20" fill="none" stroke="#404040" stroke-width="1.2"/>
<line x1="150.75" y1="187.80" x2="156.55" y2="187.80" stroke="#222" stroke-width="1.2" />
<line x1="152.20" y1="185.29" x2="155.10" y2="190.31" stroke="#222" stroke-width="1.2" />
<line x1="155.10" y1="185.29" x2="152.20" y2="190.31" stroke="#222" stroke-width="1.2" />
<line x1="157.95" y1="187.80" x2="163.75" y2="187.80" stroke="#222" stroke-width="1.2" />
<line x1="159.40" y1="185.29" x2="162.30" y2="190.31" stroke="#222" stroke-width="1.2" />
<line x1="162.30" y1="185.29" x2="159.40" y2="190.31" stroke="#222" stroke-width="1.2" />
<line x1="165.15" y1="187.80" x2="170.95" y2="187.80" stroke="#222" stroke-width="1.2" />
<line x1="166.60" y1="185.29" x2="169.50" y2="190.31" stroke="#222" stroke-width="1.2" />
<line x1="169.50" y1="185.29" x2="166.60" y2="190.31" stroke="#222" stroke-width="1.2" />
<path d="M102.10,202.40 L102.10,197.50 L181.40,197.50 L181.40,202.40" fill="none" stroke="#404040" stroke-width="1.2"/>
<line x1="129.40" y1="194.60" x2="135.20" y2="194.60" stroke="#222" stroke-width="1.2" />
<line x1="130.85" y1="192.09" x2="133.75" y2="197.11" stroke="#222" stroke-width="1.2" />
<line x1="133.75" y1="192.09" x2="130.85" y2="197.11" stroke="#222" stroke-width="1.2" />
<line x1="136.60" y1="194.60" x2="142.40" y2="194.60" stroke="#222" stroke-width="1.2" />
<line x1="138.05" y1="192.09" x2="140.95" y2="197.11" stroke="#222" stroke-width="1.2" />
<line x1="140.95" y1="192.09" x2="138.05" y2="197.11" stroke="#222" stroke-width="1.2" />
<line x1="143.80" y1="194.60" x2="149.60" y2="194.60" stroke="#222" stroke-width="1.2" />
<line x1="145.25" y1="192.09" x2="148.15" y2="197.11" stroke="#222" stroke-width="1.2" />
<line x1="148.15" y1="192.09" x2="145.25" y2="197.11" stroke="#222" stroke-width="1.2" />
<line x1="151.00" y1="194.60" x2="156.80" y2="194.60" stroke="#222" stroke-width="1.2" />
<line x1="152.45" y1="192.09" x2="155.35" y2="197.11" stroke="#222" stroke-width="1.2" />
<line x1="155.35" y1="192.09" x2="152.45" y2="197.11" stroke="#222" stroke-width="1.2" />
<path d="M102.10,210.40 L102.10,204.40 L141.80,204.40 L141.80,210.40" fill="none" stroke="#404040" stroke-width="1.2"/>
<line x1="111.10" y1="201.50" x2="116.90" y2="201.50" stroke="#222" stroke-width="1.2" />
<line x1="112.55" y1="198.99" x2="115.45" y2="204.01" stroke="#222" stroke-width="1.2" />
<line x1="115.45" y1="198.99" x2="112.55" y2="204.01" stroke="#222" stroke-width="1.2" />
<line x1="118.30" y1="201.50" x2="124.10" y2="201.50" stroke="#222" stroke-width="1.2" />
<line x1="119.75" y1="198.99" x2="122.65" y2="204.01" stroke="#222" stroke-width="1.2" />
<line x1="122.65" y1="198.99" x2="119.75" y2="204.01" stroke="#222" stroke-width="1.2" />
<line x1="125.50" y1="201.50" x2="131.30" y2="201.50" stroke="#222" stroke-width="1.2" />
<line x1="126.95" y1="198.99" x2="129.85" y2="204.01" stroke="#222" stroke-width="1.2" />
<line x1="129.85" y1="198.99" x2="126.95" y2="204.01" stroke="#222" stroke-width="1.2" />
<text x="0.00" y="0.00" font-size="24" text-anchor="start" font-weight="bold" font-style="normal" stroke="#1a1a1a" stroke-width="0.7" transform="translate(238.7,185.6) scale(0.93,1)">D</text>
<line x1="317.60" y1="182.40" x2="317.60" y2="312.30" stroke="#000" stroke-width="1.8" />
<line x1="312.60" y1="293.00" x2="317.60" y2="293.00" stroke="#000" stroke-width="1.1" />
<text x="307.30" y="298.00" font-size="14" text-anchor="end" font-weight="normal" font-style="normal" >0</text>
<line x1="312.60" y1="264.10" x2="317.60" y2="264.10" stroke="#000" stroke-width="1.1" />
<text x="307.30" y="269.10" font-size="14" text-anchor="end" font-weight="normal" font-style="normal" >1000</text>
<line x1="312.60" y1="235.20" x2="317.60" y2="235.20" stroke="#000" stroke-width="1.1" />
<text x="307.30" y="240.20" font-size="14" text-anchor="end" font-weight="normal" font-style="normal" >2000</text>
<line x1="312.60" y1="206.30" x2="317.60" y2="206.30" stroke="#000" stroke-width="1.1" />
<text x="307.30" y="211.30" font-size="14" text-anchor="end" font-weight="normal" font-style="normal" >3000</text>
<text x="0.00" y="0.00" font-size="14" text-anchor="middle" font-weight="normal" font-style="normal" transform="translate(269.4,247.1) rotate(-90)">Protein (Raman intensity)</text>
<line x1="338.90" y1="220.00" x2="338.90" y2="229.40" stroke="#808080" stroke-width="0.9" opacity="0.2"/>
<line x1="338.90" y1="289.00" x2="338.90" y2="295.00" stroke="#808080" stroke-width="0.9" opacity="0.18"/>
<line x1="338.90" y1="202.00" x2="338.90" y2="229.00" stroke="#808080" stroke-width="1.0" opacity="0.6"/>
<path d="M338.90,220.00 L339.00,220.00 C339.03,220.83 338.98,223.43 339.21,225.00 C339.45,226.57 339.99,227.90 340.40,229.40 C340.81,230.90 341.20,232.40 341.70,234.00 C342.20,235.60 342.70,237.67 343.40,239.00 C344.10,240.33 345.00,241.00 345.90,242.00 C346.80,243.00 347.97,244.00 348.80,245.00 C349.63,246.00 350.25,247.00 350.90,248.00 C351.55,249.00 352.25,250.07 352.70,251.00 C353.15,251.93 353.47,252.93 353.60,253.60 C353.73,254.27 353.78,254.43 353.50,255.00 C353.22,255.57 352.45,256.25 351.90,257.00 C351.35,257.75 350.82,258.67 350.20,259.50 C349.58,260.33 348.73,261.25 348.20,262.00 C347.67,262.75 347.27,262.92 347.00,264.00 C346.73,265.08 346.75,267.00 346.60,268.50 C346.45,270.00 346.38,271.83 346.10,273.00 C345.82,274.17 345.32,274.75 344.90,275.50 C344.48,276.25 344.02,276.75 343.60,277.50 C343.18,278.25 342.77,279.25 342.40,280.00 C342.03,280.75 341.73,281.00 341.40,282.00 C341.07,283.00 340.73,284.83 340.40,286.00 C340.07,287.17 339.69,287.83 339.44,289.00 C339.20,290.17 339.01,292.33 338.93,293.00 L338.90,293.00 L338.87,293.00 C338.79,292.33 338.60,290.17 338.36,289.00 C338.11,287.83 337.73,287.17 337.40,286.00 C337.07,284.83 336.73,283.00 336.40,282.00 C336.07,281.00 335.77,280.75 335.40,280.00 C335.03,279.25 334.62,278.25 334.20,277.50 C333.78,276.75 333.32,276.25 332.90,275.50 C332.48,274.75 331.98,274.17 331.70,273.00 C331.42,271.83 331.35,270.00 331.20,268.50 C331.05,267.00 331.07,265.08 330.80,264.00 C330.53,262.92 330.13,262.75 329.60,262.00 C329.07,261.25 328.22,260.33 327.60,259.50 C326.98,258.67 326.45,257.75 325.90,257.00 C325.35,256.25 324.58,255.57 324.30,255.00 C324.02,254.43 324.07,254.27 324.20,253.60 C324.33,252.93 324.65,251.93 325.10,251.00 C325.55,250.07 326.25,249.00 326.90,248.00 C327.55,247.00 328.17,246.00 329.00,245.00 C329.83,244.00 331.00,243.00 331.90,242.00 C332.80,241.00 333.70,240.33 334.40,239.00 C335.10,237.67 335.60,235.60 336.10,234.00 C336.60,232.40 336.99,230.90 337.40,229.40 C337.81,227.90 338.35,226.57 338.59,225.00 C338.82,223.43 338.77,220.83 338.80,220.00 Z" fill="#808080"/>
<line x1="338.90" y1="236.00" x2="338.90" y2="286.00" stroke="#111" stroke-width="1.7" />
<rect x="337.50" y="250.40" width="2.80" height="18.80" fill="#858585" />
<line x1="337.00" y1="256.50" x2="340.80" y2="256.50" stroke="#111" stroke-width="1.5" />
<circle cx="338.90" cy="218.00" r="2.8" fill="#808080"/>
<line x1="378.00" y1="221.00" x2="378.00" y2="230.30" stroke="#a51d1d" stroke-width="0.9" opacity="0.2"/>
<line x1="378.00" y1="283.60" x2="378.00" y2="292.00" stroke="#a51d1d" stroke-width="0.9" opacity="0.18"/>
<path d="M378.00,221.00 L378.03,221.00 C378.05,221.83 378.01,224.45 378.15,226.00 C378.29,227.55 378.62,228.97 378.86,230.30 C379.10,231.63 379.39,232.95 379.60,234.00 C379.81,235.05 379.77,235.60 380.10,236.60 C380.43,237.60 381.12,238.68 381.60,240.00 C382.08,241.32 382.37,243.00 383.00,244.50 C383.63,246.00 384.43,247.50 385.40,249.00 C386.37,250.50 387.82,252.00 388.80,253.50 C389.78,255.00 390.67,256.50 391.30,258.00 C391.93,259.50 392.23,261.00 392.60,262.50 C392.97,264.00 393.77,265.58 393.50,267.00 C393.23,268.42 391.98,269.83 391.00,271.00 C390.02,272.17 388.60,273.08 387.60,274.00 C386.60,274.92 385.80,275.70 385.00,276.50 C384.20,277.30 383.47,278.05 382.80,278.80 C382.13,279.55 381.55,280.20 381.00,281.00 C380.45,281.80 379.96,282.60 379.50,283.60 C379.04,284.60 378.47,285.93 378.22,287.00 C377.98,288.07 378.06,289.50 378.03,290.00 L378.00,290.00 L377.97,290.00 C377.94,289.50 378.02,288.07 377.78,287.00 C377.53,285.93 376.96,284.60 376.50,283.60 C376.04,282.60 375.55,281.80 375.00,281.00 C374.45,280.20 373.87,279.55 373.20,278.80 C372.53,278.05 371.80,277.30 371.00,276.50 C370.20,275.70 369.40,274.92 368.40,274.00 C367.40,273.08 365.98,272.17 365.00,271.00 C364.02,269.83 362.77,268.42 362.50,267.00 C362.23,265.58 363.03,264.00 363.40,262.50 C363.77,261.00 364.07,259.50 364.70,258.00 C365.33,256.50 366.22,255.00 367.20,253.50 C368.18,252.00 369.63,250.50 370.60,249.00 C371.57,247.50 372.37,246.00 373.00,244.50 C373.63,243.00 373.92,241.32 374.40,240.00 C374.88,238.68 375.57,237.60 375.90,236.60 C376.23,235.60 376.19,235.05 376.40,234.00 C376.61,232.95 376.90,231.63 377.14,230.30 C377.38,228.97 377.71,227.55 377.85,226.00 C377.99,224.45 377.95,221.83 377.97,221.00 Z" fill="#a51d1d"/>
<line x1="378.00" y1="236.60" x2="378.00" y2="279.40" stroke="#111" stroke-width="1.7" />
<rect x="376.60" y="257.20" width="2.80" height="13.20" fill="#858585" />
<line x1="376.10" y1="265.00" x2="379.90" y2="265.00" stroke="#111" stroke-width="1.5" />
<line x1="417.00" y1="212.00" x2="417.00" y2="226.00" stroke="#7d53ad" stroke-width="0.9" opacity="0.2"/>
<line x1="417.00" y1="289.00" x2="417.00" y2="302.00" stroke="#7d53ad" stroke-width="0.9" opacity="0.18"/>
<path d="M417.00,212.00 L417.03,212.00 C417.05,213.33 417.07,217.67 417.15,220.00 C417.24,222.33 417.30,224.00 417.54,226.00 C417.79,228.00 418.36,230.50 418.60,232.00 C418.84,233.50 418.82,233.50 419.00,235.00 C419.18,236.50 419.13,239.00 419.70,241.00 C420.27,243.00 421.55,245.50 422.40,247.00 C423.25,248.50 423.95,249.00 424.80,250.00 C425.65,251.00 426.65,251.50 427.50,253.00 C428.35,254.50 429.30,257.00 429.90,259.00 C430.50,261.00 430.92,263.67 431.10,265.00 C431.28,266.33 431.15,266.33 431.00,267.00 C430.85,267.67 430.62,268.25 430.20,269.00 C429.78,269.75 429.12,270.67 428.50,271.50 C427.88,272.33 427.13,273.25 426.50,274.00 C425.87,274.75 425.28,275.33 424.70,276.00 C424.12,276.67 423.57,277.25 423.00,278.00 C422.43,278.75 421.83,279.67 421.30,280.50 C420.77,281.33 420.22,282.25 419.80,283.00 C419.38,283.75 419.18,284.00 418.80,285.00 C418.42,286.00 417.83,287.50 417.54,289.00 C417.26,290.50 417.18,292.17 417.10,294.00 C417.01,295.83 417.04,299.00 417.03,300.00 L417.00,300.00 L416.97,300.00 C416.96,299.00 416.99,295.83 416.90,294.00 C416.82,292.17 416.74,290.50 416.46,289.00 C416.17,287.50 415.58,286.00 415.20,285.00 C414.82,284.00 414.62,283.75 414.20,283.00 C413.78,282.25 413.23,281.33 412.70,280.50 C412.17,279.67 411.57,278.75 411.00,278.00 C410.43,277.25 409.88,276.67 409.30,276.00 C408.72,275.33 408.13,274.75 407.50,274.00 C406.87,273.25 406.12,272.33 405.50,271.50 C404.88,270.67 404.22,269.75 403.80,269.00 C403.38,268.25 403.15,267.67 403.00,267.00 C402.85,266.33 402.72,266.33 402.90,265.00 C403.08,263.67 403.50,261.00 404.10,259.00 C404.70,257.00 405.65,254.50 406.50,253.00 C407.35,251.50 408.35,251.00 409.20,250.00 C410.05,249.00 410.75,248.50 411.60,247.00 C412.45,245.50 413.73,243.00 414.30,241.00 C414.87,239.00 414.82,236.50 415.00,235.00 C415.18,233.50 415.16,233.50 415.40,232.00 C415.64,230.50 416.21,228.00 416.46,226.00 C416.70,224.00 416.76,222.33 416.85,220.00 C416.93,217.67 416.95,213.33 416.97,212.00 Z" fill="#7d53ad"/>
<line x1="417.00" y1="236.00" x2="417.00" y2="285.50" stroke="#111" stroke-width="1.7" />
<rect x="415.60" y="256.80" width="2.80" height="15.20" fill="#858585" />
<line x1="415.10" y1="264.50" x2="418.90" y2="264.50" stroke="#111" stroke-width="1.5" />
<circle cx="417.00" cy="229.20" r="2.8" fill="#808080"/>
<line x1="456.00" y1="207.00" x2="456.00" y2="225.00" stroke="#17897e" stroke-width="0.9" opacity="0.2"/>
<line x1="456.00" y1="289.00" x2="456.00" y2="307.00" stroke="#17897e" stroke-width="0.9" opacity="0.18"/>
<path d="M456.00,207.00 L456.03,207.00 C456.04,208.33 456.05,212.67 456.10,215.00 C456.14,217.33 456.18,219.33 456.31,221.00 C456.44,222.67 456.61,223.58 456.86,225.00 C457.11,226.42 457.49,228.00 457.80,229.50 C458.11,231.00 458.17,232.50 458.70,234.00 C459.23,235.50 460.28,237.00 461.00,238.50 C461.72,240.00 462.30,241.50 463.00,243.00 C463.70,244.50 464.53,246.00 465.20,247.50 C465.87,249.00 466.68,250.08 467.00,252.00 C467.32,253.92 466.98,256.83 467.10,259.00 C467.22,261.17 467.65,263.50 467.70,265.00 C467.75,266.50 467.65,267.00 467.40,268.00 C467.15,269.00 466.73,270.00 466.20,271.00 C465.67,272.00 464.90,273.00 464.20,274.00 C463.50,275.00 462.67,276.00 462.00,277.00 C461.33,278.00 460.75,279.00 460.20,280.00 C459.65,281.00 459.15,282.00 458.70,283.00 C458.25,284.00 457.86,285.00 457.50,286.00 C457.14,287.00 456.78,287.50 456.54,289.00 C456.31,290.50 456.18,292.33 456.10,295.00 C456.01,297.67 456.04,303.33 456.03,305.00 L456.00,305.00 L455.97,305.00 C455.96,303.33 455.99,297.67 455.90,295.00 C455.82,292.33 455.69,290.50 455.46,289.00 C455.22,287.50 454.86,287.00 454.50,286.00 C454.14,285.00 453.75,284.00 453.30,283.00 C452.85,282.00 452.35,281.00 451.80,280.00 C451.25,279.00 450.67,278.00 450.00,277.00 C449.33,276.00 448.50,275.00 447.80,274.00 C447.10,273.00 446.33,272.00 445.80,271.00 C445.27,270.00 444.85,269.00 444.60,268.00 C444.35,267.00 444.25,266.50 444.30,265.00 C444.35,263.50 444.78,261.17 444.90,259.00 C445.02,256.83 444.68,253.92 445.00,252.00 C445.32,250.08 446.13,249.00 446.80,247.50 C447.47,246.00 448.30,244.50 449.00,243.00 C449.70,241.50 450.28,240.00 451.00,238.50 C451.72,237.00 452.77,235.50 453.30,234.00 C453.83,232.50 453.89,231.00 454.20,229.50 C454.51,228.00 454.89,226.42 455.14,225.00 C455.39,223.58 455.56,222.67 455.69,221.00 C455.82,219.33 455.86,217.33 455.90,215.00 C455.95,212.67 455.96,208.33 455.97,207.00 Z" fill="#17897e"/>
<line x1="456.00" y1="226.00" x2="456.00" y2="285.40" stroke="#111" stroke-width="1.7" />
<rect x="454.60" y="251.30" width="2.80" height="18.50" fill="#858585" />
<line x1="454.10" y1="259.60" x2="457.90" y2="259.60" stroke="#111" stroke-width="1.5" />
<line x1="316.80" y1="311.50" x2="475.30" y2="311.50" stroke="#000" stroke-width="1.8" />
<line x1="338.70" y1="311.50" x2="338.70" y2="317.00" stroke="#000" stroke-width="1.1" />
<text x="338.70" y="332.70" font-size="14" text-anchor="middle" font-weight="normal" font-style="normal" >WT</text>
<line x1="377.90" y1="311.50" x2="377.90" y2="317.00" stroke="#000" stroke-width="1.1" />
<text x="377.90" y="332.70" font-size="14" text-anchor="middle" font-weight="normal" font-style="normal" >Δ<tspan font-style="italic">rtcA</tspan></text>
<line x1="416.90" y1="311.50" x2="416.90" y2="317.00" stroke="#000" stroke-width="1.1" />
<text x="416.90" y="332.70" font-size="14" text-anchor="middle" font-weight="normal" font-style="normal" >Δ<tspan font-style="italic">rtcB</tspan></text>
<line x1="456.00" y1="311.50" x2="456.00" y2="317.00" stroke="#000" stroke-width="1.1" />
<text x="456.00" y="332.70" font-size="14" text-anchor="middle" font-weight="normal" font-style="normal" >Δ<tspan font-style="italic">rtcR</tspan></text>
<path d="M339.00,186.50 L339.00,181.40 L457.50,181.40 L457.50,186.50" fill="none" stroke="#404040" stroke-width="1.2"/>
<text x="398.65" y="181.20" font-size="9.6" text-anchor="middle" font-weight="normal" font-style="normal" >ns</text>
<path d="M339.00,193.50 L339.00,188.40 L418.10,188.40 L418.10,193.50" fill="none" stroke="#404040" stroke-width="1.2"/>
<text x="378.90" y="188.20" font-size="9.6" text-anchor="middle" font-weight="normal" font-style="normal" >ns</text>
<path d="M339.00,201.60 L339.00,196.10 L378.50,196.10 L378.50,201.60" fill="none" stroke="#404040" stroke-width="1.2"/>
<text x="360.20" y="195.90" font-size="9.6" text-anchor="middle" font-weight="normal" font-style="normal" >ns</text>
<text x="0.00" y="0.00" font-size="24" text-anchor="start" font-weight="bold" font-style="normal" stroke="#1a1a1a" stroke-width="0.7" transform="translate(491.8,17.6) scale(0.8,1)">E</text>
<line x1="526.60" y1="11.30" x2="526.60" y2="76.40" stroke="#000" stroke-width="1.8" />
<line x1="525.80" y1="75.60" x2="685.00" y2="75.60" stroke="#000" stroke-width="1.8" />
<line x1="521.10" y1="75.60" x2="526.60" y2="75.60" stroke="#000" stroke-width="1.1" />
<text x="516.60" y="80.60" font-size="14" text-anchor="end" font-weight="normal" font-style="normal" >0</text>
<line x1="521.10" y1="47.50" x2="526.60" y2="47.50" stroke="#000" stroke-width="1.1" />
<text x="516.60" y="52.50" font-size="14" text-anchor="end" font-weight="normal" font-style="normal" >2</text>
<line x1="521.10" y1="19.40" x2="526.60" y2="19.40" stroke="#000" stroke-width="1.1" />
<text x="516.60" y="24.40" font-size="14" text-anchor="end" font-weight="normal" font-style="normal" >4</text>
<text x="0.00" y="0.00" font-size="14" text-anchor="middle" font-weight="normal" font-style="normal" transform="translate(501.4,44.4) rotate(-90)">pdf</text>
<line x1="526.60" y1="82.50" x2="526.60" y2="148.10" stroke="#000" stroke-width="1.8" />
<line x1="525.80" y1="147.30" x2="685.00" y2="147.30" stroke="#000" stroke-width="1.8" />
<line x1="521.10" y1="147.30" x2="526.60" y2="147.30" stroke="#000" stroke-width="1.1" />
<text x="516.60" y="152.30" font-size="14" text-anchor="end" font-weight="normal" font-style="normal" >0</text>
<line x1="521.10" y1="129.70" x2="526.60" y2="129.70" stroke="#000" stroke-width="1.1" />
<text x="516.60" y="134.70" font-size="14" text-anchor="end" font-weight="normal" font-style="normal" >1</text>
<line x1="521.10" y1="112.10" x2="526.60" y2="112.10" stroke="#000" stroke-width="1.1" />
<text x="516.60" y="117.10" font-size="14" text-anchor="end" font-weight="normal" font-style="normal" >2</text>
<line x1="521.10" y1="94.50" x2="526.60" y2="94.50" stroke="#000" stroke-width="1.1" />
<text x="516.60" y="99.50" font-size="14" text-anchor="end" font-weight="normal" font-style="normal" >3</text>
<text x="0.00" y="0.00" font-size="14" text-anchor="middle" font-weight="normal" font-style="normal" transform="translate(501.4,115.9) rotate(-90)">pdf</text>
<line x1="526.60" y1="155.80" x2="526.60" y2="221.20" stroke="#000" stroke-width="1.8" />
<line x1="525.80" y1="220.40" x2="685.00" y2="220.40" stroke="#000" stroke-width="1.8" />
<line x1="521.10" y1="220.40" x2="526.60" y2="220.40" stroke="#000" stroke-width="1.1" />
<text x="516.60" y="225.40" font-size="14" text-anchor="end" font-weight="normal" font-style="normal" >0</text>
<line x1="521.10" y1="190.60" x2="526.60" y2="190.60" stroke="#000" stroke-width="1.1" />
<text x="516.60" y="195.60" font-size="14" text-anchor="end" font-weight="normal" font-style="normal" >2</text>
<line x1="521.10" y1="160.80" x2="526.60" y2="160.80" stroke="#000" stroke-width="1.1" />
<text x="516.60" y="165.80" font-size="14" text-anchor="end" font-weight="normal" font-style="normal" >4</text>
<text x="0.00" y="0.00" font-size="14" text-anchor="middle" font-weight="normal" font-style="normal" transform="translate(501.4,189.1) rotate(-90)">pdf</text>
<line x1="526.60" y1="227.80" x2="526.60" y2="293.30" stroke="#000" stroke-width="1.8" />
<line x1="525.80" y1="292.50" x2="685.00" y2="292.50" stroke="#000" stroke-width="1.8" />
<line x1="521.10" y1="292.50" x2="526.60" y2="292.50" stroke="#000" stroke-width="1.1" />
<text x="516.60" y="297.50" font-size="14" text-anchor="end" font-weight="normal" font-style="normal" >0</text>
<line x1="521.10" y1="273.60" x2="526.60" y2="273.60" stroke="#000" stroke-width="1.1" />
<text x="516.60" y="278.60" font-size="14" text-anchor="end" font-weight="normal" font-style="normal" >2</text>
<line x1="521.10" y1="254.70" x2="526.60" y2="254.70" stroke="#000" stroke-width="1.1" />
<text x="516.60" y="259.70" font-size="14" text-anchor="end" font-weight="normal" font-style="normal" >4</text>
<line x1="521.10" y1="235.80" x2="526.60" y2="235.80" stroke="#000" stroke-width="1.1" />
<text x="516.60" y="240.80" font-size="14" text-anchor="end" font-weight="normal" font-style="normal" >6</text>
<text x="0.00" y="0.00" font-size="14" text-anchor="middle" font-weight="normal" font-style="normal" transform="translate(501.4,261.1) rotate(-90)">pdf</text>
<rect x="562.20" y="56.80" width="5.30" height="18.80" fill="#d3d3d3" />
<rect x="567.30" y="60.90" width="5.30" height="14.70" fill="#d3d3d3" />
<rect x="572.40" y="34.10" width="5.90" height="41.50" fill="#d3d3d3" />
<rect x="578.10" y="15.10" width="5.00" height="60.50" fill="#d3d3d3" />
<rect x="582.90" y="38.00" width="5.30" height="37.60" fill="#d3d3d3" />
<rect x="588.00" y="38.00" width="5.20" height="37.60" fill="#d3d3d3" />
<rect x="592.90" y="56.80" width="5.60" height="18.80" fill="#d3d3d3" />
<rect x="598.30" y="45.50" width="5.00" height="30.10" fill="#d3d3d3" />
<rect x="603.10" y="63.90" width="5.70" height="11.70" fill="#d3d3d3" />
<rect x="608.60" y="68.00" width="5.40" height="7.60" fill="#d3d3d3" />
<rect x="659.80" y="72.50" width="5.90" height="3.10" fill="#d3d3d3" />
<rect x="553.20" y="129.10" width="3.40" height="18.20" fill="#eb9898" />
<rect x="556.40" y="126.00" width="3.60" height="21.30" fill="#eb9898" />
<rect x="559.80" y="112.00" width="3.60" height="35.30" fill="#eb9898" />
<rect x="563.20" y="92.70" width="3.70" height="54.60" fill="#eb9898" />
<rect x="566.70" y="105.00" width="3.50" height="42.30" fill="#eb9898" />
<rect x="570.00" y="123.00" width="3.00" height="24.30" fill="#eb9898" />
<rect x="572.80" y="113.00" width="3.60" height="34.30" fill="#eb9898" />
<rect x="576.20" y="98.90" width="3.70" height="48.40" fill="#eb9898" />
<rect x="579.70" y="96.30" width="3.50" height="51.00" fill="#eb9898" />
<rect x="583.00" y="86.60" width="7.00" height="60.70" fill="#eb9898" />
<rect x="589.80" y="92.70" width="3.20" height="54.60" fill="#eb9898" />
<rect x="592.80" y="135.00" width="3.50" height="12.30" fill="#eb9898" />
<rect x="596.10" y="123.20" width="3.30" height="24.10" fill="#eb9898" />
<rect x="599.20" y="133.00" width="3.20" height="14.30" fill="#eb9898" />
<rect x="602.20" y="135.50" width="4.10" height="11.80" fill="#eb9898" />
<rect x="615.90" y="141.40" width="3.60" height="5.90" fill="#eb9898" />
<rect x="549.60" y="209.50" width="3.80" height="10.90" fill="#dbbaf0" />
<rect x="553.20" y="199.50" width="3.40" height="20.90" fill="#dbbaf0" />
<rect x="556.40" y="182.10" width="2.90" height="38.30" fill="#dbbaf0" />
<rect x="559.10" y="170.80" width="3.00" height="49.60" fill="#dbbaf0" />
<rect x="561.90" y="176.50" width="2.70" height="43.90" fill="#dbbaf0" />
<rect x="564.40" y="187.70" width="3.30" height="32.70" fill="#dbbaf0" />
<rect x="567.50" y="165.70" width="3.00" height="54.70" fill="#dbbaf0" />
<rect x="570.30" y="192.60" width="3.00" height="27.80" fill="#dbbaf0" />
<rect x="573.10" y="159.90" width="3.00" height="60.50" fill="#dbbaf0" />
<rect x="575.90" y="176.50" width="3.00" height="43.90" fill="#dbbaf0" />
<rect x="578.70" y="190.60" width="3.30" height="29.80" fill="#dbbaf0" />
<rect x="581.80" y="187.70" width="5.30" height="32.70" fill="#dbbaf0" />
<rect x="586.90" y="209.50" width="3.30" height="10.90" fill="#dbbaf0" />
<rect x="590.00" y="193.10" width="2.70" height="27.30" fill="#dbbaf0" />
<rect x="592.50" y="198.70" width="2.80" height="21.70" fill="#dbbaf0" />
<rect x="595.10" y="215.10" width="5.80" height="5.30" fill="#dbbaf0" />
<rect x="600.70" y="210.00" width="3.30" height="10.40" fill="#dbbaf0" />
<rect x="603.80" y="217.00" width="3.20" height="3.40" fill="#dbbaf0" />
<rect x="546.10" y="281.00" width="2.10" height="11.50" fill="#8fdad2" />
<rect x="548.00" y="286.60" width="2.20" height="5.90" fill="#8fdad2" />
<rect x="552.10" y="265.00" width="2.40" height="27.50" fill="#8fdad2" />
<rect x="554.30" y="259.20" width="2.30" height="33.30" fill="#8fdad2" />
<rect x="556.40" y="256.00" width="2.30" height="36.50" fill="#8fdad2" />
<rect x="558.50" y="251.00" width="2.10" height="41.50" fill="#8fdad2" />
<rect x="560.40" y="232.10" width="2.10" height="60.40" fill="#8fdad2" />
<rect x="562.30" y="247.40" width="2.40" height="45.10" fill="#8fdad2" />
<rect x="564.50" y="248.40" width="2.50" height="44.10" fill="#8fdad2" />
<rect x="566.80" y="270.20" width="2.20" height="22.30" fill="#8fdad2" />
<rect x="568.80" y="254.10" width="4.30" height="38.40" fill="#8fdad2" />
<rect x="572.90" y="286.10" width="2.60" height="6.40" fill="#8fdad2" />
<rect x="575.30" y="281.00" width="1.90" height="11.50" fill="#8fdad2" />
<rect x="577.00" y="254.10" width="2.20" height="38.40" fill="#8fdad2" />
<rect x="579.00" y="266.00" width="2.60" height="26.50" fill="#8fdad2" />
<rect x="581.40" y="270.20" width="2.20" height="22.30" fill="#8fdad2" />
<path d="M553,75.3 C553.48,75.25 554.92,75.47 555.90,75.00 C556.88,74.53 558.05,73.83 558.90,72.50 C559.75,71.17 560.38,68.50 561.00,67.00 C561.62,65.50 561.90,64.50 562.60,63.50 C563.30,62.50 564.35,61.83 565.20,61.00 C566.05,60.17 566.93,59.83 567.70,58.50 C568.47,57.17 569.17,54.67 569.80,53.00 C570.43,51.33 570.97,50.00 571.50,48.50 C572.03,47.00 572.33,46.02 573.00,44.00 C573.67,41.98 574.67,38.97 575.50,36.40 C576.33,33.83 577.30,30.83 578.00,28.60 C578.70,26.37 579.30,24.23 579.70,23.00 C580.10,21.77 580.13,21.27 580.40,21.20 C580.67,21.13 580.93,21.72 581.30,22.60 C581.67,23.48 582.15,25.07 582.60,26.50 C583.05,27.93 583.47,29.37 584.00,31.20 C584.53,33.03 585.02,36.05 585.80,37.50 C586.58,38.95 587.87,38.98 588.70,39.90 C589.53,40.82 590.10,41.47 590.80,43.00 C591.50,44.53 592.03,47.73 592.90,49.10 C593.77,50.47 594.98,51.12 596.00,51.20 C597.02,51.28 597.98,49.27 599.00,49.60 C600.02,49.93 601.08,51.32 602.10,53.20 C603.12,55.08 604.08,58.52 605.10,60.90 C606.12,63.28 606.98,65.88 608.20,67.50 C609.42,69.12 611.17,69.63 612.40,70.60 C613.63,71.57 614.58,72.53 615.60,73.30 C616.62,74.07 616.10,74.87 618.50,75.20 C620.90,75.53 624.75,75.28 630.00,75.30 C635.25,75.32 645.22,75.33 650.00,75.30 C654.78,75.27 656.25,75.57 658.70,75.10 C661.15,74.63 662.87,72.50 664.70,72.50 C666.53,72.50 667.15,74.63 669.70,75.10 C672.25,75.57 678.28,75.27 680.00,75.30" fill="none" stroke="#7a7a7a" stroke-width="1.5"/>
<path d="M544,147 C544.55,146.93 546.12,147.22 547.30,146.60 C548.48,145.98 550.02,144.75 551.10,143.30 C552.18,141.85 552.98,139.70 553.80,137.90 C554.62,136.10 555.28,134.30 556.00,132.50 C556.72,130.70 557.38,129.08 558.10,127.10 C558.82,125.12 559.67,122.67 560.30,120.60 C560.93,118.53 561.35,116.57 561.90,114.70 C562.45,112.83 562.92,110.77 563.60,109.40 C564.28,108.03 565.10,106.38 566.00,106.50 C566.90,106.62 567.93,108.57 569.00,110.10 C570.07,111.63 571.28,115.78 572.40,115.70 C573.52,115.62 574.48,112.15 575.70,109.60 C576.92,107.05 578.43,102.78 579.70,100.40 C580.97,98.02 582.10,97.00 583.30,95.30 C584.50,93.60 585.87,90.20 586.90,90.20 C587.93,90.20 588.73,92.92 589.50,95.30 C590.27,97.68 590.92,101.22 591.50,104.50 C592.08,107.78 592.40,111.72 593.00,115.00 C593.60,118.28 594.25,121.90 595.10,124.20 C595.95,126.50 597.12,127.68 598.10,128.80 C599.08,129.92 600.05,129.78 601.00,130.90 C601.95,132.02 602.92,133.80 603.80,135.50 C604.68,137.20 605.37,139.48 606.30,141.10 C607.23,142.72 608.38,144.30 609.40,145.20 C610.42,146.10 611.47,146.37 612.40,146.50 C613.33,146.63 614.07,146.32 615.00,146.00 C615.93,145.68 617.00,144.57 618.00,144.60 C619.00,144.63 620.00,145.82 621.00,146.20 C622.00,146.58 623.50,146.78 624.00,146.90" fill="none" stroke="#a81e1e" stroke-width="1.5"/>
<path d="M541,220.5 C541.48,220.37 542.78,220.35 543.90,219.70 C545.02,219.05 546.55,218.07 547.70,216.60 C548.85,215.13 549.97,212.80 550.80,210.90 C551.63,209.00 552.07,207.20 552.70,205.20 C553.33,203.20 553.97,201.00 554.60,198.90 C555.23,196.80 555.87,194.60 556.50,192.60 C557.13,190.60 557.67,188.80 558.40,186.90 C559.13,185.00 560.15,182.72 560.90,181.20 C561.65,179.68 562.23,178.58 562.90,177.80 C563.57,177.02 563.80,176.25 564.90,176.50 C566.00,176.75 567.97,179.33 569.50,179.30 C571.03,179.27 572.82,176.35 574.10,176.30 C575.38,176.25 576.17,177.43 577.20,179.00 C578.23,180.57 579.57,184.12 580.30,185.70 C581.03,187.28 580.93,187.27 581.60,188.50 C582.27,189.73 583.08,191.65 584.30,193.10 C585.52,194.55 587.62,195.83 588.90,197.20 C590.18,198.57 590.97,199.52 592.00,201.30 C593.03,203.08 594.08,206.03 595.10,207.90 C596.12,209.77 597.00,211.47 598.10,212.50 C599.20,213.53 600.58,213.42 601.70,214.10 C602.82,214.78 603.68,215.53 604.80,216.60 C605.92,217.67 607.80,219.85 608.40,220.50" fill="none" stroke="#7e52b4" stroke-width="1.5"/>
<path d="M539,292 C539.32,291.98 539.90,292.22 540.90,291.90 C541.90,291.58 543.63,291.08 545.00,290.10 C546.37,289.12 548.02,287.37 549.10,286.00 C550.18,284.63 550.82,283.37 551.50,281.90 C552.18,280.43 552.62,278.95 553.20,277.20 C553.78,275.45 554.32,273.93 555.00,271.40 C555.68,268.87 556.62,264.63 557.30,262.00 C557.98,259.37 558.48,257.60 559.10,255.60 C559.72,253.60 560.35,251.37 561.00,250.00 C561.65,248.63 562.08,246.82 563.00,247.40 C563.92,247.98 565.40,251.40 566.50,253.50 C567.60,255.60 568.57,257.63 569.60,260.00 C570.63,262.37 571.67,265.73 572.70,267.70 C573.73,269.67 574.70,270.78 575.80,271.80 C576.90,272.82 578.37,272.87 579.30,273.80 C580.23,274.73 580.63,275.62 581.40,277.40 C582.17,279.18 582.97,282.47 583.90,284.50 C584.83,286.53 585.80,288.37 587.00,289.60 C588.20,290.83 590.42,291.52 591.10,291.90" fill="none" stroke="#17897e" stroke-width="1.5"/>
<line x1="562.9" y1="9.97" x2="562.9" y2="300.3" stroke="#3e6bcb" stroke-width="2" stroke-dasharray="8.8 5.526"/>
<line x1="580.7" y1="9.97" x2="580.7" y2="300.3" stroke="#f07f1c" stroke-width="2" stroke-dasharray="8.8 5.526"/>
<line x1="525.80" y1="75.60" x2="685.00" y2="75.60" stroke="#000" stroke-width="1.8" />
<line x1="525.80" y1="147.30" x2="685.00" y2="147.30" stroke="#000" stroke-width="1.8" />
<line x1="525.80" y1="220.40" x2="685.00" y2="220.40" stroke="#000" stroke-width="1.8" />
<line x1="525.80" y1="292.50" x2="685.00" y2="292.50" stroke="#000" stroke-width="1.8" />
<line x1="531.50" y1="292.50" x2="531.50" y2="298.00" stroke="#000" stroke-width="1.1" />
<text x="531.50" y="314.00" font-size="14" text-anchor="middle" font-weight="normal" font-style="normal" >0.5</text>
<line x1="582.85" y1="292.50" x2="582.85" y2="298.00" stroke="#000" stroke-width="1.1" />
<text x="582.85" y="314.00" font-size="14" text-anchor="middle" font-weight="normal" font-style="normal" >1.0</text>
<line x1="634.20" y1="292.50" x2="634.20" y2="298.00" stroke="#000" stroke-width="1.1" />
<text x="634.20" y="314.00" font-size="14" text-anchor="middle" font-weight="normal" font-style="normal" >1.5</text>
<text x="605.10" y="332.30" font-size="14" text-anchor="middle" font-weight="normal" font-style="normal" >RNA/Protein</text>
<rect x="621.1" y="10.8" width="59.60" height="33.80" fill="#fff" stroke="#222" stroke-width="1.1"/>
<rect x="625.50" y="20.10" width="14.90" height="14.60" fill="#d3d3d3" />
<text x="644.50" y="25.60" font-size="10.5" text-anchor="start" font-weight="normal" font-style="normal" >WT</text>
<text x="676.50" y="37.80" font-size="10.5" text-anchor="end" font-weight="normal" font-style="normal" >n = 75</text>
<rect x="622.4" y="79.5" width="59.50" height="35.80" fill="#fff" stroke="#222" stroke-width="1.1"/>
<rect x="626.90" y="90.10" width="15.10" height="14.60" fill="#eb9898" />
<text x="645.50" y="94.00" font-size="10.5" text-anchor="start" font-weight="normal" font-style="normal" >Δ<tspan font-style="italic">rtcA</tspan></text>
<text x="677.20" y="108.50" font-size="10.5" text-anchor="end" font-weight="normal" font-style="normal" >n = 90</text>
<rect x="615.2" y="152.2" width="66.40" height="36.30" fill="#fff" stroke="#222" stroke-width="1.1"/>
<rect x="620.00" y="163.00" width="15.00" height="14.70" fill="#dbbaf0" />
<text x="638.50" y="166.60" font-size="10.5" text-anchor="start" font-weight="normal" font-style="normal" >Δ<tspan font-style="italic">rtcB</tspan></text>
<text x="676.00" y="181.50" font-size="10.5" text-anchor="end" font-weight="normal" font-style="normal" >n = 102</text>
<rect x="625.3" y="225.5" width="59.30" height="35.30" fill="#fff" stroke="#222" stroke-width="1.1"/>
<rect x="629.30" y="236.00" width="15.00" height="14.70" fill="#8fdad2" />
<text x="648.00" y="239.60" font-size="10.5" text-anchor="start" font-weight="normal" font-style="normal" >Δ<tspan font-style="italic">rtcR</tspan></text>
<text x="679.60" y="254.30" font-size="10.5" text-anchor="end" font-weight="normal" font-style="normal" >n = 85</text>
</svg>
</body></html>
